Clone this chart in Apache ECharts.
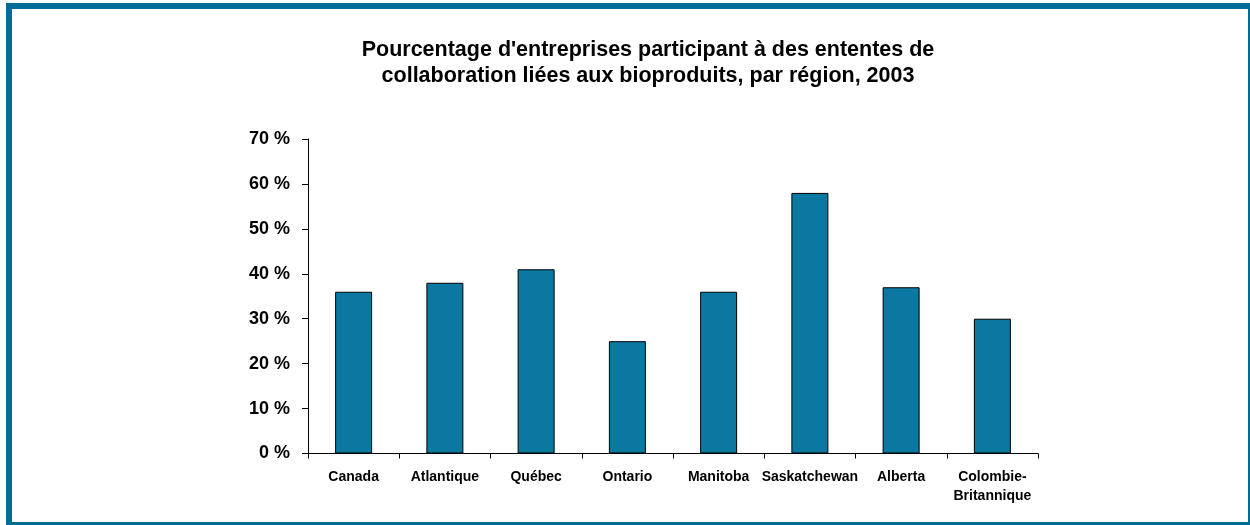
<!DOCTYPE html>
<html>
<head>
<meta charset="utf-8">
<script src="https://cdn.jsdelivr.net/npm/echarts@6/dist/echarts.min.js"></script>
<style>
  html, body { margin: 0; padding: 0; background: #fff; }
  #chart { width: 1250px; height: 525px; }
</style>
</head>
<body>
<div id="chart"></div>
<script>
// régions et pourcentages
const regions = ['Canada', 'Atlantique', 'Québec', 'Ontario', 'Manitoba', 'Saskatchewan', 'Alberta', 'Colombie-\nBritannique']
const pourcentages = [36, 38, 41, 25, 36, 58, 37, 30]
const titre = "Pourcentage d'entreprises participant à des ententes de\ncollaboration liées aux bioproduits, par région, 2003"

const frameColor = '#006d96'
const barColor = '#0a78a0'

const chart = echarts.init(document.getElementById('chart'))
const option = {
  animation: false,
  title: {
    text: titre,
    left: 643,
    top: 32,
    textAlign: 'center',
    textStyle: {
      fontFamily: 'Liberation Sans, Arial, sans-serif',
      fontWeight: 'bold',
      fontSize: 21.5,
      lineHeight: 26,
      color: '#000'
    }
  },
  graphic: [
    { type: 'rect', shape: { x: 6, y: 3, width: 6, height: 522 }, style: { fill: frameColor } },
    { type: 'rect', shape: { x: 6, y: 3, width: 1244, height: 6 }, style: { fill: frameColor } },
    { type: 'rect', shape: { x: 1248, y: 3, width: 2, height: 522 }, style: { fill: frameColor } },
    { type: 'rect', shape: { x: 6, y: 522, width: 1244, height: 3 }, style: { fill: frameColor } }
  ],
  grid: {
    left: 308,
    right: 212,
    top: 139,
    bottom: 71.5,
    containLabel: false
  },
  xAxis: {
    type: 'category',
    data: regions,
    axisLine: { lineStyle: { color: '#000', width: 1 } },
    axisTick: { show: true, length: 5, alignWithLabel: false, lineStyle: { color: '#000' } },
    axisLabel: {
      interval: 0,
      margin: 14,
      color: '#000',
      fontFamily: 'Liberation Sans, Arial, sans-serif',
      fontWeight: 'bold',
      fontSize: 14,
      lineHeight: 19
    }
  },
  yAxis: {
    type: 'value',
    min: 0,
    max: 70,
    interval: 10,
    axisLine: { show: true, lineStyle: { color: '#000', width: 1 } },
    axisTick: { show: true, length: 6, lineStyle: { color: '#000' } },
    splitLine: { show: false },
    axisLabel: {
      margin: 18,
      color: '#000',
      fontFamily: 'Liberation Sans, Arial, sans-serif',
      fontWeight: 'bold',
      fontSize: 18,
      formatter: function(value) {
        return value + ' %'
      }
    }
  },
  series: [
    {
      type: 'bar',
      data: pourcentages,
      barWidth: 37,
      itemStyle: {
        color: barColor,
        borderColor: '#000',
        borderWidth: 1
      }
    }
  ]
}
chart.setOption(option)
</script>
</body>
</html>
